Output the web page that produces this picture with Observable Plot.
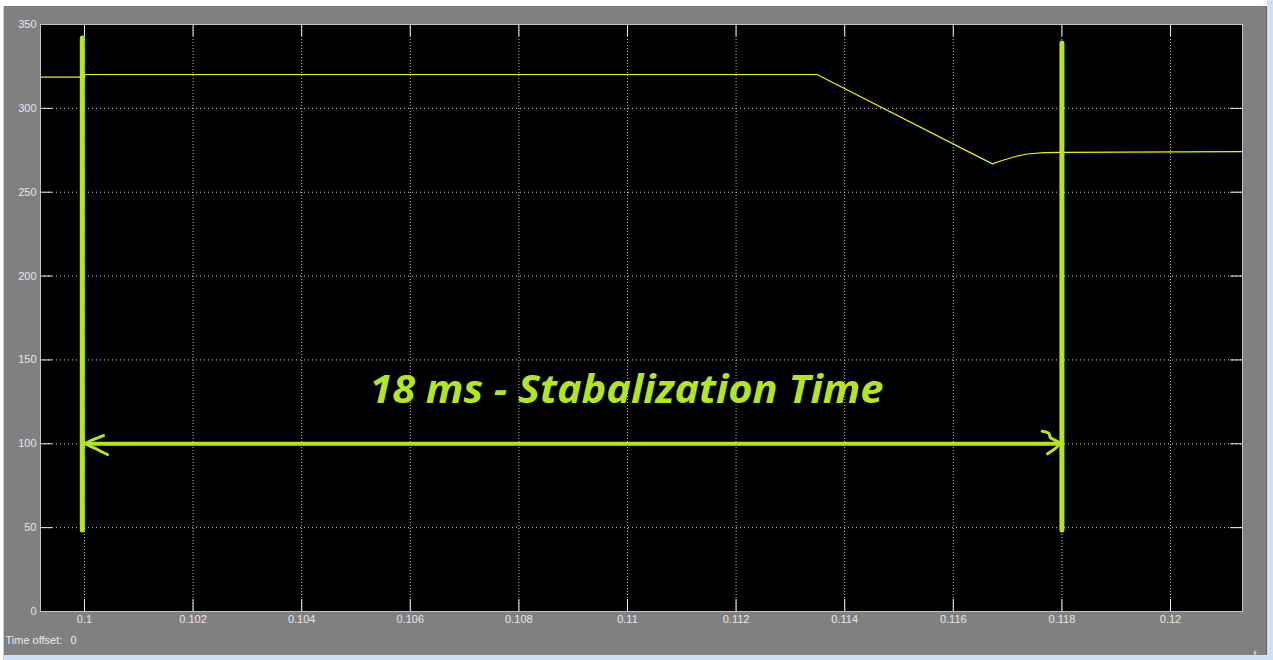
<!DOCTYPE html>
<html>
<head>
<meta charset="utf-8">
<script src="https://cdn.jsdelivr.net/npm/d3@7"></script>
<script src="https://cdn.jsdelivr.net/npm/@observablehq/plot@0.6"></script>
<style>
  html, body { margin: 0; padding: 0; background: #ffffff; }
  #wrap { position: relative; width: 1273px; height: 660px; overflow: hidden; background: #ffffff; }
  .bg { position: absolute; }
  #chart { position: absolute; left: 0; top: 0; }
</style>
</head>
<body>
<div id="wrap">
  <div class="bg" style="left:3px;top:6px;width:1px;height:654px;background:#b9d1ec"></div>
  <div class="bg" style="left:4px;top:6px;width:1263px;height:649px;background:#808080"></div>
  <div class="bg" style="left:1266px;top:6px;width:1px;height:649px;background:#5e5e5e"></div>
  <div class="bg" style="left:1267px;top:0px;width:6px;height:660px;background:#cfe1f4"></div>
  <div class="bg" style="left:4px;top:655px;width:1269px;height:5px;background:#cde0f5"></div>
  <div id="chart"></div>
</div>
<script>
// ---- data ----
const xTicks = [0.1, 0.102, 0.104, 0.106, 0.108, 0.11, 0.112, 0.114, 0.116, 0.118, 0.12];
const xTickLabels = ["0.1", "0.102", "0.104", "0.106", "0.108", "0.11", "0.112", "0.114", "0.116", "0.118", "0.12"];
const yTicks = [0, 50, 100, 150, 200, 250, 300, 350];
const yTickLabels = ["0", "50", "100", "150", "200", "250", "300", "350"];

// scope signal (time, value)
const signalT = [0.09919, 0.1, 0.1, 0.11349, 0.11672, 0.11687, 0.11711, 0.11736, 0.11767, 0.118, 0.121326];
const signalV = [318.6, 318.6, 320.2, 320.2, 266.9, 268.6, 271.0, 272.8, 273.6, 273.8, 274.2];

// annotation: vertical markers
const markerT = [0.09996, 0.118];
const markerTop = [341.6, 338.7];
const markerBottom = [48.3, 48.3];

// annotation: double arrow
const arrowStartT = 0.1;
const arrowEndT = 0.11797;
const arrowLevel = 100;
const leftHeadT = [0.10035, 0.100258, 0.100037, 0.100239, 0.100424];
const leftHeadV = [104.9, 103.7, 100.2, 96.6, 93.6];
const rightHeadT = [0.117637, 0.117759, 0.11779, 0.117956, 0.117735];
const rightHeadV = [107.5, 106.3, 103.6, 100.2, 94.0];

const annotationText = "18 ms - Stabalization Time";
const annotationT = 0.10998;
const annotationV = 131.5;

const xDomain = [0.09919, 0.121326];
const yDomain = [0, 350];

// ---- tables ----
const signal = signalT.map((t, i) => ({t, v: signalV[i]}));
const markers = markerT.map((t, i) => ({t, y1: markerBottom[i], y2: markerTop[i]}));
const leftHead = leftHeadT.map((t, i) => ({t, v: leftHeadV[i]}));
const rightHead = rightHeadT.map((t, i) => ({t, v: rightHeadV[i]}));
const xLab = new Map(xTicks.map((d, i) => [d, xTickLabels[i]]));
const yLab = new Map(yTicks.map((d, i) => [d, yTickLabels[i]]));

const W = 1273, H = 660;
const mL = 40, mT = 24, mR = 31, mB = 49;
const fw = W - mL - mR, fh = H - mT - mB;
const tickLen = 12;
const lime = "#b5e61d";

const chart = Plot.plot({
  width: W,
  height: H,
  marginLeft: mL,
  marginTop: mT,
  marginRight: mR,
  marginBottom: mB,
  style: {background: "transparent", color: "#e6e6e6", fontFamily: "'Liberation Sans', Arial, sans-serif", fontSize: "11px"},
  x: {domain: xDomain},
  y: {domain: yDomain},
  marks: [
    Plot.frame({fill: "#000000", stroke: null}),
    // dotted grid
    Plot.ruleY(yTicks.slice(1, -1), {stroke: "#cfcfcf", strokeDasharray: "1,3", strokeWidth: 1}),
    Plot.ruleX(xTicks, {stroke: "#bdbdbd", strokeDasharray: "1,2", strokeWidth: 1}),
    // inward ticks
    Plot.ruleX(xTicks, {stroke: "#f0f0f0", insetTop: fh - tickLen}),
    Plot.ruleX(xTicks, {stroke: "#f0f0f0", insetBottom: fh - tickLen}),
    Plot.ruleY(yTicks, {stroke: "#f0f0f0", insetRight: fw - tickLen}),
    Plot.ruleY(yTicks, {stroke: "#f0f0f0", insetLeft: fw - tickLen}),
    // signal
    Plot.line(signal, {x: "t", y: "v", stroke: "#f2f200", strokeWidth: 1.2}),
    // annotations
    Plot.ruleX(markers, {x: "t", y1: "y1", y2: "y2", stroke: lime, strokeWidth: 5, strokeLinecap: "round"}),
    Plot.ruleY([arrowLevel], {x1: arrowStartT, x2: arrowEndT, stroke: lime, strokeWidth: 4}),
    Plot.line(leftHead, {x: "t", y: "v", stroke: lime, strokeWidth: 3, curve: "catmull-rom", strokeLinecap: "round", strokeLinejoin: "round"}),
    Plot.line(rightHead, {x: "t", y: "v", stroke: lime, strokeWidth: 3, curve: "catmull-rom", strokeLinecap: "round", strokeLinejoin: "round"}),
    Plot.text([annotationText], {x: annotationT, y: annotationV, text: d => d, fill: lime, fontSize: 39, fontWeight: "bold", fontStyle: "italic", fontFamily: "'Open Sans', Lato, sans-serif", textAnchor: "middle"}),
    // border
    Plot.frame({stroke: "#c4c4c4", strokeWidth: 1}),
    // axes labels
    Plot.axisX(xTicks, {anchor: "bottom", tickSize: 0, tickPadding: 4, tickFormat: d => xLab.get(d), fill: "#e6e6e6"}),
    Plot.axisY(yTicks, {anchor: "left", tickSize: 0, tickPadding: 4, tickFormat: d => yLab.get(d), fill: "#e6e6e6"}),
    Plot.text(["Time offset:"], {frameAnchor: "bottom-left", text: d => d, dx: -35, dy: 32, textAnchor: "start", fill: "#ececec", fontSize: 11}),
    Plot.text(["0"], {frameAnchor: "bottom-left", text: d => d, dx: 30, dy: 32, textAnchor: "start", fill: "#ececec", fontSize: 11})
  ]
});

document.getElementById("chart").appendChild(chart);

// fit the annotation text to the width seen in the reference
d3.select(chart).selectAll("text").filter(function () { return this.textContent === annotationText; })
  .attr("textLength", 514).attr("lengthAdjust", "spacingAndGlyphs");
</script>
</body>
</html>
